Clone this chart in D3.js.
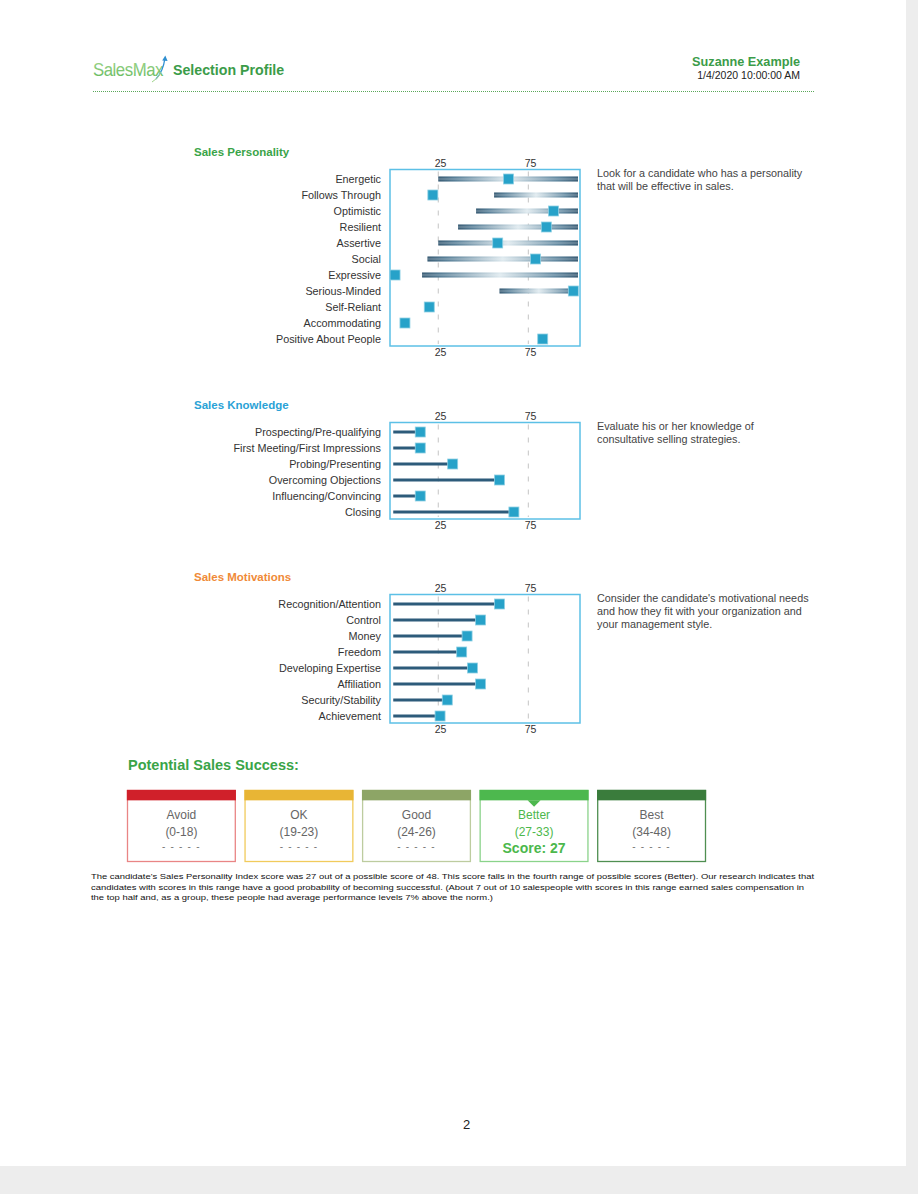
<!DOCTYPE html>
<html>
<head>
<meta charset="utf-8">
<script src="https://cdn.jsdelivr.net/npm/d3@7/dist/d3.min.js"></script>
<style>
  html, body { margin: 0; padding: 0; background: #ededed; }
  svg { display: block; }
  text { font-family: "Liberation Sans", Arial, sans-serif; }
</style>
</head>
<body>
<svg id="page" width="918" height="1194"></svg>
<script>
// ---------------- DATA ----------------
const personalityTraits = ["Energetic","Follows Through","Optimistic","Resilient","Assertive","Social","Expressive","Serious-Minded","Self-Reliant","Accommodating","Positive About People"];
const personalityScores = [64, 22, 89, 85, 58, 79, 1, 100, 20, 6.5, 83];
const personalityRangeStart = [25, 56, 46, 36, 25, 19, 16, 59, null, null, null];

const knowledgeAreas = ["Prospecting/Pre-qualifying","First Meeting/First Impressions","Probing/Presenting","Overcoming Objections","Influencing/Convincing","Closing"];
const knowledgeScores = [15, 15, 33, 59, 15, 67];

const motivationNeeds = ["Recognition/Attention","Control","Money","Freedom","Developing Expertise","Affiliation","Security/Stability","Achievement"];
const motivationScores = [59, 48.5, 41, 38, 44, 48.5, 30, 26];

const axisTicks = [25, 75];

const successLevels = ["Avoid","OK","Good","Better","Best"];
const successRanges = ["(0-18)","(19-23)","(24-26)","(27-33)","(34-48)"];
const candidateScore = 27;
const candidateLevel = "Better";

const descriptions = {
  personality: ["Look for a candidate who has a personality","that will be effective in sales."],
  knowledge: ["Evaluate his or her knowledge of","consultative selling strategies."],
  motivation: ["Consider the candidate's motivational needs","and how they fit with your organization and","your management style."]
};

const footerLines = [
  "The candidate's Sales Personality Index score was 27 out of a possible score of 48. This score falls in the fourth range of possible scores (Better). Our research indicates that",
  "candidates with scores in this range have a good probability of becoming successful. (About 7 out of 10 salespeople with scores in this range earned sales compensation in",
  "the top half and, as a group, these people had average performance levels 7% above the norm.)"
];

// ---------------- DRAW ----------------
const svg = d3.select("#page");
const defs = svg.append("defs");

// page
svg.append("rect").attr("x",0).attr("y",0).attr("width",906).attr("height",1166).attr("fill","#ffffff");

// header
const logoGrad = defs.append("linearGradient").attr("id","logoGrad").attr("x1","0").attr("y1","0").attr("x2","0").attr("y2","1");
logoGrad.append("stop").attr("offset","0").attr("stop-color","#9fd48a");
logoGrad.append("stop").attr("offset","1").attr("stop-color","#5fb85c");
svg.append("text").attr("x",93).attr("y",76).attr("font-family","'Liberation Sans Narrow', 'Liberation Sans', sans-serif")
  .attr("font-size",18).attr("textLength",70).attr("lengthAdjust","spacingAndGlyphs")
  .attr("fill","url(#logoGrad)").attr("letter-spacing",-0.5).text("SalesMax");
// logo arrow
svg.append("path").attr("d","M156,79 Q163,72 165,58").attr("fill","none").attr("stroke","#2f8fd0").attr("stroke-width",1.3);
svg.append("path").attr("d","M162.2,60.5 L165.3,55.5 L167.6,61").attr("fill","#2f8fd0");
svg.append("path").attr("d","M152,82 Q158,79 161,72").attr("fill","none").attr("stroke","#9fd48a").attr("stroke-width",1);

svg.append("text").attr("x",173).attr("y",75).attr("font-size",14.2).attr("font-weight","bold").attr("fill","#3b9c49").text("Selection Profile");
svg.append("text").attr("x",800).attr("y",66).attr("text-anchor","end").attr("font-size",12.7).attr("font-weight","bold").attr("fill","#3b9c49").text("Suzanne Example");
svg.append("text").attr("x",800).attr("y",78.5).attr("text-anchor","end").attr("font-size",10.5).attr("fill","#222").text("1/4/2020 10:00:00 AM");
svg.append("line").attr("x1",93).attr("x2",815).attr("y1",91.5).attr("y2",91.5)
  .attr("stroke","#5aa85a").attr("stroke-width",1).attr("stroke-dasharray","1,1");

// shared x scale
const x = d3.scaleLinear().domain([-1.8, 103.7]).range([390, 580]);

// range bar gradient
const barGrad = defs.append("linearGradient").attr("id","barGrad").attr("x1","0").attr("y1","0").attr("x2","1").attr("y2","0");
[["0","#1c4460"],["0.12","#3f6c88"],["0.5","#d9e6ec"],["0.85","#4c7893"],["1","#1c4460"]]
  .forEach(s => barGrad.append("stop").attr("offset",s[0]).attr("stop-color",s[1]));
const shine = defs.append("linearGradient").attr("id","shine").attr("x1","0").attr("y1","0").attr("x2","0").attr("y2","1");
[["0","#ffffff",0],["0.5","#ffffff",0.35],["1","#ffffff",0]]
  .forEach(s => shine.append("stop").attr("offset",s[0]).attr("stop-color",s[1]).attr("stop-opacity",s[2]));

function panel(opts) {
  const g = svg.append("g");
  const n = opts.cats.length;
  const y0 = opts.top;
  const y = d3.scalePoint().domain(opts.cats).range([y0 + 9.5, y0 + 9.5 + 16 * (n - 1)]);
  const boxBottom = y(opts.cats[n-1]) + 7;
  const [bx0, bx1] = x.range();

  // title
  g.append("text").attr("x",194).attr("y",y0 - 13.5).attr("font-size",11.5).attr("font-weight","bold")
    .attr("fill",opts.titleColor).text(opts.title);

  // gridlines
  g.selectAll(".grid").data(axisTicks).join("line")
    .attr("x1",d=>x(d)).attr("x2",d=>x(d)).attr("y1",y0+2).attr("y2",boxBottom-2)
    .attr("stroke","#c4c4c4").attr("stroke-width",1).attr("stroke-dasharray","5,8");

  // axes
  const topAxis = g.append("g").attr("transform",`translate(1.8,${y0})`)
    .call(d3.axisTop(x).tickValues(axisTicks).tickSize(0).tickPadding(2.5));
  const botAxis = g.append("g").attr("transform",`translate(1.8,${boxBottom})`)
    .call(d3.axisBottom(x).tickValues(axisTicks).tickSize(0).tickPadding(3));
  [topAxis, botAxis].forEach(a => {
    a.select(".domain").remove();
    a.selectAll("text").attr("font-size",10.5).attr("fill","#333").attr("font-family","'Liberation Sans', Arial, sans-serif");
  });

  // box
  g.append("rect").attr("x",bx0).attr("y",y0).attr("width",bx1-bx0).attr("height",boxBottom-y0)
    .attr("fill","none").attr("stroke","#5cc0e6").attr("stroke-width",1.5);

  // labels
  g.selectAll(".lab").data(opts.cats).join("text")
    .attr("x",381).attr("y",d=>y(d)+3.8).attr("text-anchor","end").attr("font-size",10.8).attr("fill","#333").text(d=>d);

  const rows = opts.cats.map((c,i)=>({c, v: opts.values[i], lo: opts.rangeStart ? opts.rangeStart[i] : null}));

  if (opts.type === "range") {
    const rr = rows.filter(r => r.lo !== null);
    g.selectAll(".rbar").data(rr).join("rect")
      .attr("x",r=>x(r.lo)).attr("y",r=>y(r.c)-2.5).attr("width",r=>(bx1-2)-x(r.lo)).attr("height",5)
      .attr("fill","url(#barGrad)");
    g.selectAll(".rshine").data(rr).join("rect")
      .attr("x",r=>x(r.lo)).attr("y",r=>y(r.c)-2.5).attr("width",r=>(bx1-2)-x(r.lo)).attr("height",5)
      .attr("fill","url(#shine)");
  } else {
    g.selectAll(".stem").data(rows).join("line")
      .attr("x1",x(0)).attr("x2",r=>x(r.v)).attr("y1",r=>y(r.c)).attr("y2",r=>y(r.c))
      .attr("stroke","#2d5b7a").attr("stroke-width",3);
  }

  // markers
  g.selectAll(".mk").data(rows).join("rect")
    .attr("x",r=>x(r.v)-5).attr("y",r=>y(r.c)-5).attr("width",10).attr("height",10)
    .attr("fill","#27a2c9").attr("stroke","#8fd0e4").attr("stroke-width",0.8);

  // description
  g.selectAll(".desc").data(opts.desc).join("text")
    .attr("x",597).attr("y",(d,i)=>y0 + 7.5 + i*13).attr("font-size",10.8).attr("fill","#444").text(d=>d);
}

panel({title:"Sales Personality", titleColor:"#3aa448", top:169.5, cats:personalityTraits, values:personalityScores,
       rangeStart:personalityRangeStart, type:"range", desc:descriptions.personality});
panel({title:"Sales Knowledge", titleColor:"#2aa2d6", top:422.5, cats:knowledgeAreas, values:knowledgeScores,
       type:"stem", desc:descriptions.knowledge});
panel({title:"Sales Motivations", titleColor:"#f08a38", top:594.5, cats:motivationNeeds, values:motivationScores,
       type:"stem", desc:descriptions.motivation});

// Potential Sales Success
svg.append("text").attr("x",128).attr("y",769.5).attr("font-size",14.5).attr("font-weight","bold").attr("fill","#3aa448")
  .text("Potential Sales Success:");

const barColors = ["#d0202a","#e8b535","#8da566","#4db84e","#3a7c3c"];
const borderColors = ["#e98585","#f1cb5c","#bdcc9f","#8ad38a","#4f8f51"];
const bx = d3.scaleBand().domain(successLevels).range([127.5, 705.5]).paddingInner(0.083).paddingOuter(0);
const boxTop = 790.5, boxBot = 861.5;
const bg = svg.append("g");
successLevels.forEach((lvl,i) => {
  const gx = bx(lvl), w = bx.bandwidth();
  const active = lvl === candidateLevel;
  const tc = active ? "#4cb84c" : "#666";
  bg.append("rect").attr("x",gx).attr("y",boxTop).attr("width",w).attr("height",boxBot-boxTop)
    .attr("fill","#fff").attr("stroke",borderColors[i]).attr("stroke-width",1.3);
  bg.append("rect").attr("x",gx-0.65).attr("y",boxTop-0.65).attr("width",w+1.3).attr("height",10.5).attr("fill",barColors[i]);
  if (active) {
    const cx = gx + w/2;
    bg.append("path").attr("d",`M${cx-6.5},${boxTop+9.8} L${cx+6.5},${boxTop+9.8} L${cx},${boxTop+16.2} Z`).attr("fill",barColors[i]);
  }
  bg.append("text").attr("x",gx+w/2).attr("y",818.5).attr("text-anchor","middle").attr("font-size",12).attr("fill",tc).text(lvl);
  bg.append("text").attr("x",gx+w/2).attr("y",836).attr("text-anchor","middle").attr("font-size",12).attr("fill",tc).text(successRanges[i]);
  if (active) {
    bg.append("text").attr("x",gx+w/2).attr("y",852.5).attr("text-anchor","middle").attr("font-size",14).attr("font-weight","bold")
      .attr("fill",tc).text("Score: " + candidateScore);
  } else {
    bg.append("text").attr("x",gx+w/2).attr("y",850).attr("text-anchor","middle").attr("font-size",10).attr("fill","#777")
      .attr("letter-spacing",1.2).text("- - - - -");
  }
});

// footer paragraph
const footerEnds = [814, 804, 493];
svg.selectAll(".foot").data(footerLines).join("text")
  .attr("x",91).attr("y",(d,i)=>879 + i*10.6).attr("font-size",7.7).attr("fill","#111")
  .attr("textLength",(d,i)=>footerEnds[i]-91).attr("lengthAdjust","spacingAndGlyphs").text(d=>d);

// page number
svg.append("text").attr("x",466.5).attr("y",1129).attr("text-anchor","middle").attr("font-family","'Liberation Serif', 'DejaVu Serif', serif")
  .attr("font-size",13).attr("fill","#222").text("2");
</script>
</body>
</html>
